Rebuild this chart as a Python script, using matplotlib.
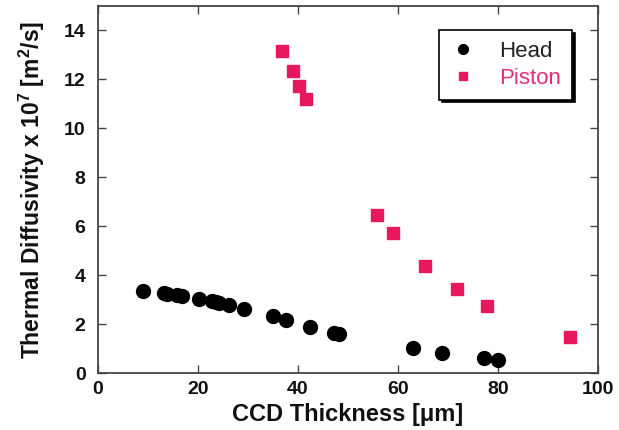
import matplotlib
matplotlib.use('Agg')
import matplotlib.pyplot as plt

# Head data (CCD thickness in um, diffusivity x 1e7 m^2/s)
head_x = [8.9, 13.1, 13.8, 15.7, 16.7, 20.2, 22.7, 23.5, 24.1, 26.1, 29.1,
          34.9, 37.5, 42.3, 47.1, 48.1, 62.9, 68.7, 77.1, 80.0]
head_y = [3.34, 3.26, 3.22, 3.2, 3.13, 3.04, 2.96, 2.92, 2.86, 2.76, 2.61,
          2.31, 2.15, 1.90, 1.65, 1.59, 1.01, 0.81, 0.63, 0.53]

# Piston data
piston_x = [36.7, 38.9, 40.2, 41.5, 55.7, 58.9, 65.3, 71.7, 77.7, 94.4]
piston_y = [13.16, 12.34, 11.73, 11.18, 6.45, 5.71, 4.39, 3.45, 2.75, 1.47]

pink = '#E8185F'
font = 'Liberation Sans'

fig = plt.figure(figsize=(6.19, 4.30), dpi=100)
ax = fig.add_axes([98 / 619, 1 - 373 / 430, 500 / 619, 367 / 430])

ax.plot(head_x, head_y, 'o', color='black', markersize=10, label='Head')
ax.plot(piston_x, piston_y, 's', color=pink, markersize=9, label='Piston')

ax.set_xlim(0, 100)
ax.set_ylim(0, 15)
ax.set_xticks(range(0, 101, 20))
ax.set_yticks(range(0, 15, 2))
ax.tick_params(direction='in', top=True, right=True, length=6, width=1,
               labelsize=14, color='#444444')
ax.tick_params(axis='y', pad=9)
ax.tick_params(axis='x', pad=6)
for lbl in ax.get_xticklabels() + ax.get_yticklabels():
    lbl.set_fontweight('bold')
    lbl.set_fontfamily(font)
    lbl.set_color('#111111')
for s in ax.spines.values():
    s.set_linewidth(1.3)
    s.set_color('#444444')

ax.set_xlabel('CCD Thickness [\u03bcm]', fontsize=17, fontweight='bold',
              family=font, labelpad=3, color='#111111')
ax.set_ylabel('Thermal Diffusivity x 10$^\\mathregular{7}$ [m$^\\mathregular{2}$/s]',
              fontsize=16.5, fontweight='bold', family=font, labelpad=12,
              color='#111111')

leg = ax.legend(loc='upper right', bbox_to_anchor=(0.948, 0.935),
                frameon=True, fancybox=False, shadow={'color': 'black', 'alpha': 1},
                edgecolor='black', markerscale=0.7, handlelength=1.2,
                handletextpad=1.0, borderpad=0.5, labelspacing=0.25,
                borderaxespad=0, prop={'family': font, 'size': 16})
leg.get_frame().set_linewidth(1.2)
leg.get_texts()[0].set_color('#222222')
leg.get_texts()[1].set_color('#E0307A')

fig.savefig('out.png', dpi=100)
